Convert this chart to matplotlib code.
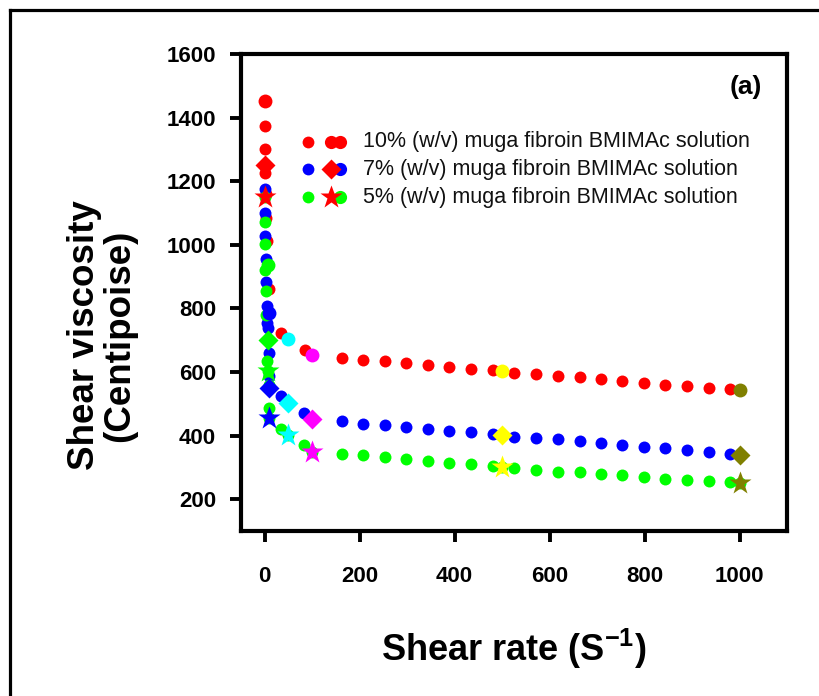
import matplotlib
matplotlib.use("Agg")
import matplotlib.pyplot as plt
from matplotlib.lines import Line2D

plt.rcParams['font.family'] = ['Liberation Sans', 'DejaVu Sans']
plt.rcParams['mathtext.fontset'] = 'custom'
plt.rcParams['mathtext.rm'] = 'Liberation Sans:bold'
plt.rcParams['mathtext.default'] = 'rm'

# shear rate (1/s) and shear viscosity (cP), 10% solution
rate_10 = [0.1, 0.5, 1, 1.5, 2, 3, 5, 7, 9, 10, 34, 50, 84, 100,
           163, 208, 253, 298, 344, 389, 435, 480, 500, 526, 571,
           617, 663, 708, 753, 799, 844, 889, 935, 980, 1000]
visc_10 = [1453, 1374, 1302, 1227, 1160, 1085, 1013, 937, 861, 786, 723, 704, 669, 654,
           644, 639, 634, 628, 621, 616, 610, 605, 602, 598, 594,
           588, 583, 578, 572, 565, 560, 555, 550, 546, 542]

# 7% solution
rate_7 = [0.1, 0.5, 1, 1.5, 2, 3, 4, 5, 6, 7, 8, 9, 10, 34, 50, 83, 100,
          163, 208, 253, 298, 344, 389, 435, 480, 500, 526, 571,
          617, 663, 708, 753, 799, 844, 889, 935, 980, 1000]
visc_7 = [1251, 1174, 1101, 1027, 954, 883, 809, 754, 739, 702, 660, 586, 550, 523, 502, 471, 452,
          445, 438, 433, 427, 420, 415, 410, 405, 401, 397, 393,
          388, 382, 376, 371, 364, 360, 354, 348, 343, 340]

# 5% solution
rate_5 = [0.1, 0.5, 1, 1.5, 2, 3, 5, 7, 8, 9, 10, 34, 50, 83, 100,
          163, 208, 253, 298, 344, 389, 435, 480, 500, 526, 571,
          617, 663, 708, 753, 799, 844, 889, 935, 980, 1000]
visc_5 = [1150, 1072, 1001, 922, 856, 780, 634, 602, 560, 487, 455, 421, 403, 369, 350,
          343, 339, 332, 327, 319, 314, 310, 304, 300, 298, 292,
          287, 284, 280, 276, 270, 265, 260, 257, 253, 250]

# shear rates marked with a coloured symbol
hl_rates = [0.1, 7, 10, 50, 100, 500, 1000]
hl_colors = ['#ff0000', '#00ff00', '#0000ff', '#00ffff', '#ff00ff', '#ffff00', '#808000']

labels = ['10% (w/v) muga fibroin BMIMAc solution',
          '7% (w/v) muga fibroin BMIMAc solution',
          '5% (w/v) muga fibroin BMIMAc solution']
colors = ['#ff0000', '#0000ff', '#00ff00']
hl_markers = ['o', 'D', '*']
hl_sizes = [10, 10, 17]

fig = plt.figure(figsize=(8.19, 6.96), dpi=100)
ax = fig.add_axes([241/819, 1 - 531/696, 546/819, 477/696])

data = [(rate_10, visc_10), (rate_7, visc_7), (rate_5, visc_5)]
for k, (x, y) in enumerate(data):
    ax.plot(x, y, 'o', color=colors[k], ms=8.6, mec='none', zorder=3 + k)

for k, (x, y) in enumerate(data):
    for r, c in zip(hl_rates, hl_colors):
        i = x.index(r)
        ax.plot(x[i], y[i], hl_markers[k], color=c, ms=hl_sizes[k], mec='none', zorder=7)

ax.set_xlim(-50, 1100)
ax.set_ylim(100, 1600)
ax.set_xticks([0, 200, 400, 600, 800, 1000])
ax.set_yticks([200, 400, 600, 800, 1000, 1200, 1400, 1600])

for s in ax.spines.values():
    s.set_linewidth(3)
ax.tick_params(axis='both', direction='out', length=8, width=2.8, labelsize=16)
ax.tick_params(axis='y', pad=10)
ax.tick_params(axis='x', pad=17)
for t in ax.get_xticklabels() + ax.get_yticklabels():
    t.set_fontweight('bold')

ax.set_xlabel('Shear rate (S$^{-1}$)', fontsize=26, fontweight='bold')
ax.set_ylabel('Shear viscosity\n(Centipoise)', fontsize=26.5, fontweight='bold', linespacing=1.0)
ax.xaxis.set_label_coords(0.5, -0.2)
ax.yaxis.set_label_coords(-0.19, 0.41)

ax.text(0.925, 0.93, '(a)', transform=ax.transAxes, fontsize=19, fontweight='bold',
        ha='center', va='center')

# legend keys: a small dot, then the symbol pair, then the label
rows_y = [0.816, 0.758, 0.700]
pair_markers = ['o', 'D', '*']
pair_sizes = [9.5, 10, 17]
for k in range(3):
    ax.plot(0.1227, rows_y[k], 'o', color=colors[k], ms=8.5, mec='none',
            transform=ax.transAxes, zorder=8)
    ax.plot(0.181, rows_y[k], 'o', color=colors[k], ms=9.5, mec='none',
            transform=ax.transAxes, zorder=8)
    ax.plot(0.165, rows_y[k], pair_markers[k], color='#ff0000', ms=pair_sizes[k], mec='none',
            transform=ax.transAxes, zorder=9)
    ax.text(0.2234, rows_y[k], labels[k], transform=ax.transAxes, fontsize=15.5,
            color='#111111', va='center', ha='left')

# outer frame
fig.add_artist(Line2D([10/819, 10/819], [0, 1 - 10/696], color='black', lw=2.3,
                      transform=fig.transFigure))
fig.add_artist(Line2D([10/819, 1], [1 - 10/696, 1 - 10/696], color='black', lw=2.3,
                      transform=fig.transFigure))

fig.savefig('out.png', dpi=100)
